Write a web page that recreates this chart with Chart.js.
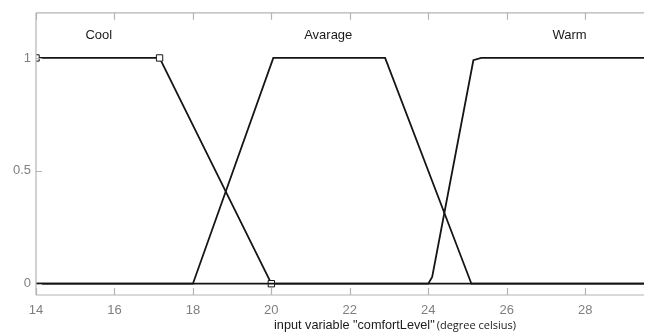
<!DOCTYPE html>
<html>
<head>
<meta charset="utf-8">
<script src="https://cdn.jsdelivr.net/npm/chart.js@4/dist/chart.umd.min.js"></script>
<style>
  html, body { margin: 0; padding: 0; background: #fff; }
  #wrap { width: 650px; height: 335px; }
</style>
</head>
<body>
<div id="wrap"><canvas id="mf"></canvas></div>
<script>
// membership function breakpoints (x = degree celsius, y = membership)
const coolX = [14, 17.15, 20, 29.5];
const coolY = [1, 1, 0, 0];
const avgX  = [14, 18, 20.05, 22.9, 25.1, 29.5];
const avgY  = [0, 0, 1, 1, 0, 0];
const warmX = [14, 24, 24.1, 25.15, 25.35, 29.5];
const warmY = [0, 0, 0.03, 0.99, 1, 1];

// square markers only on the Cool set's defining points
const coolMarks = [1, 1, 1, 0];

const mfNames = ['Cool', 'Avarage', 'Warm'];
const mfLabelX = [15.6, 21.45, 27.6];
const mfLabelY = 1.1;

const xTicks = [14, 16, 18, 20, 22, 24, 26, 28];
const yTicks = [0, 0.5, 1];

const xTitle = 'input variable "comfortLevel"';
const xUnit  = '(degree celsius)';

const toPts = (xs, ys) => xs.map((x, i) => ({ x: x, y: ys[i] }));

const frameColor = '#b4b4b4';
const tickColor  = '#7f7f7f';

// frame, inward ticks, set names and axis caption
const decor = {
    id: 'decor',
    afterDraw(chart) {
        const c = chart.ctx;
        const a = chart.chartArea;
        const xs = chart.scales.x, ys = chart.scales.y;
        c.save();
        c.strokeStyle = frameColor;
        c.lineWidth = 1.2;
        c.beginPath();
        c.moveTo(a.left, a.top);    c.lineTo(a.right, a.top);
        c.moveTo(a.left, a.top);    c.lineTo(a.left, a.bottom);
        c.moveTo(a.left, a.bottom); c.lineTo(a.right, a.bottom);
        xTicks.forEach(v => {
            const px = Math.round(xs.getPixelForValue(v)) + 0.5;
            c.moveTo(px, a.top);    c.lineTo(px, a.top + 7);
            c.moveTo(px, a.bottom); c.lineTo(px, a.bottom - 7);
        });
        yTicks.forEach(v => {
            const py = Math.round(ys.getPixelForValue(v)) + 0.5;
            c.moveTo(a.left, py); c.lineTo(a.left + 6, py);
        });
        c.stroke();

        c.fillStyle = '#1a1a1a';
        c.font = '13px "Liberation Sans", Arial, sans-serif';
        c.textAlign = 'center';
        c.textBaseline = 'middle';
        mfNames.forEach((n, i) => {
            c.fillText(n, xs.getPixelForValue(mfLabelX[i]), ys.getPixelForValue(mfLabelY));
        });

        // caption: two fonts side by side
        const f1 = '12.7px "Liberation Sans", Arial, sans-serif';
        const f2 = '11px "Open Sans", "Noto Sans", sans-serif';
        c.font = f1; const w1 = c.measureText(xTitle).width;
        c.font = f2; const w2 = c.measureText(xUnit).width;
        const gap = 2;
        let x0 = 395 - (w1 + gap + w2) / 2;
        const yy = 325;
        c.textAlign = 'left';
        c.font = f1; c.fillStyle = '#1a1a1a'; c.fillText(xTitle, x0, yy);
        c.font = f2; c.fillText(xUnit, x0 + w1 + gap, yy + 0.5);
        c.restore();
    }
};

const lineStyle = {
    showLine: true,
    borderColor: '#151515',
    borderWidth: 1.8,
    tension: 0,
    fill: false
};

new Chart(document.getElementById('mf'), {
    type: 'scatter',
    data: {
        datasets: [
            Object.assign({}, lineStyle, {
                label: mfNames[1],
                data: toPts(avgX, avgY),
                pointRadius: 0
            }),
            Object.assign({}, lineStyle, {
                label: mfNames[2],
                data: toPts(warmX, warmY),
                pointRadius: 0
            }),
            Object.assign({}, lineStyle, {
                label: mfNames[0],
                data: toPts(coolX, coolY),
                pointStyle: 'rect',
                pointRadius: coolMarks.map(m => m ? 4.5 : 0),
                pointBackgroundColor: '#ffffff',
                pointBorderColor: '#151515',
                pointBorderWidth: 1
            })
        ]
    },
    options: {
        responsive: true,
        maintainAspectRatio: false,
        animation: false,
        layout: { padding: { top: 12, right: 6, left: 0, bottom: 0 } },
        plugins: {
            legend: { display: false },
            tooltip: { enabled: false }
        },
        scales: {
            x: {
                type: 'linear',
                min: 14,
                max: 29.5,
                afterBuildTicks: s => { s.ticks = xTicks.map(v => ({ value: v })); },
                afterFit: s => { s.height = 40; },
                grid: { display: false, drawTicks: false },
                border: { display: false },
                ticks: {
                    padding: 8,
                    color: tickColor,
                    font: { family: '"Liberation Sans", Arial, sans-serif', size: 13 },
                    maxRotation: 0,
                    callback: v => String(v)
                }
            },
            y: {
                min: -0.05,
                max: 1.2,
                afterBuildTicks: s => { s.ticks = yTicks.map(v => ({ value: v })); },
                afterFit: s => { s.width = 36; },
                grid: { display: false, drawTicks: false },
                border: { display: false },
                ticks: {
                    padding: 5,
                    color: tickColor,
                    font: { family: '"Liberation Sans", Arial, sans-serif', size: 13 },
                    callback: v => String(v)
                }
            }
        }
    },
    plugins: [decor]
});
</script>
</body>
</html>
